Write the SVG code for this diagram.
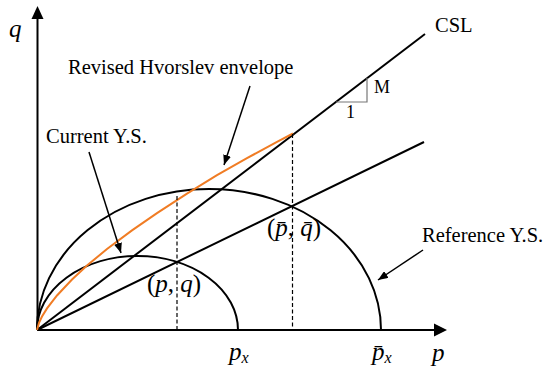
<svg xmlns="http://www.w3.org/2000/svg" width="550" height="376" viewBox="0 0 550 376">
<defs>
<style>
.ln{fill:none;stroke:#000;stroke-width:2}
.thin{fill:none;stroke:#000;stroke-width:1.5}
.dash{fill:none;stroke:#000;stroke-width:1.2;stroke-dasharray:4 2.5}
.orange{fill:none;stroke:#F07C24;stroke-width:2}
.t{font-family:"Liberation Serif","Times New Roman",serif;font-size:20.5px;fill:#000}
.m{font-family:"Liberation Serif","Times New Roman",serif;font-size:25px;fill:#000}
.it{font-style:italic}
</style>
<marker id="ah" viewBox="0 0 10 8" refX="10" refY="4" markerWidth="10" markerHeight="8" markerUnits="userSpaceOnUse" orient="auto">
<path d="M0,0 L10,4 L0,8 Z" fill="#000"/>
</marker>
</defs>
<rect width="550" height="376" fill="#fff"/>
<g id="axes">
<line class="ln" x1="37.5" y1="330" x2="37.5" y2="18"/>
<polygon points="37.5,6 31.5,19 43.5,19" fill="#000"/>
<line class="ln" x1="37" y1="330" x2="435" y2="330"/>
<polygon points="447,330 434,323.5 434,336.5" fill="#000"/>
</g>
<g id="connectors">
<line id="csl-line" class="ln" x1="37" y1="330" x2="425" y2="34"/>
<line id="ncl-line" class="ln" x1="37" y1="330" x2="424" y2="142"/>
<path id="ref-ys" class="ln" d="M37,330 A172,141 0 0 1 381,330"/>
<path id="cur-ys" class="ln" d="M37,330 A100.5,74 0 0 1 238,330"/>
<polyline id="hvorslev" class="orange" points="37,330 39,322.8 42,316.6 47,308.4 57,295.5 72,279.5 87,265.6 107,249 132,230.4 157,213.2 187,193.6 217,175.1 247,158.1 277,141.9 293,133.5"/>
<line class="dash" x1="177" y1="196" x2="177" y2="330"/>
<line class="dash" x1="292.5" y1="134" x2="292.5" y2="330"/>
<polyline points="336,102 367,102 367,78" fill="none" stroke="#777" stroke-width="1.2"/>
<line class="thin" x1="250" y1="86" x2="224" y2="165" marker-end="url(#ah)"/>
<line class="thin" x1="89" y1="152" x2="121" y2="253" marker-end="url(#ah)"/>
<line class="thin" x1="423" y1="250" x2="378" y2="280" marker-end="url(#ah)"/>
</g>
<g id="label-q"><text class="m it" x="9" y="37">q</text></g>
<g id="label-csl"><text class="t" x="435" y="32">CSL</text></g>
<g id="label-m"><text class="t" x="374" y="93" style="font-size:18px">M</text></g>
<g id="label-1"><text class="t" x="346" y="118" style="font-size:18px">1</text></g>
<g id="label-hvorslev"><text class="t" x="68" y="74">Revised Hvorslev envelope</text></g>
<g id="label-current"><text class="t" x="46" y="143">Current Y.S.</text></g>
<g id="label-reference"><text class="t" x="422" y="242">Reference Y.S.</text></g>
<g id="label-pq"><text class="m" x="147" y="292">(<tspan class="it">p</tspan>, <tspan class="it">q</tspan>)</text></g>
<g id="label-pqbar"><text class="m" x="267" y="236">(<tspan class="it">p̄</tspan>, <tspan class="it">q̄</tspan>)</text></g>
<g id="label-px"><text class="m it" x="229" y="360">p<tspan style="font-size:16px" dy="3">x</tspan></text></g>
<g id="label-pxbar"><text class="m it" x="372" y="360">p̄<tspan style="font-size:16px" dy="3">x</tspan></text></g>
<g id="label-p"><text class="m it" x="432" y="361">p</text></g>
</svg>
